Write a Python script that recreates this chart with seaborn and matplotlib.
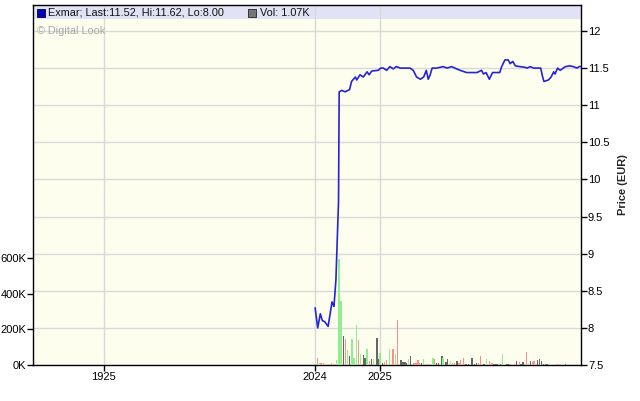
import numpy as np
import pandas as pd
import seaborn as sns
import matplotlib
matplotlib.use("Agg")
import matplotlib.pyplot as plt
from matplotlib.patches import Rectangle

# ---- data (time in years relative to start of 2024) ----
price_t = [0.00, 0.04, 0.08, 0.11, 0.15, 0.20, 0.26, 0.27, 0.29, 0.32, 0.34, 0.36, 0.37,
           0.41, 0.46, 0.53, 0.56, 0.62, 0.64, 0.69, 0.74, 0.80, 0.83, 0.87, 0.97, 1.01,
           1.05, 1.10, 1.15, 1.20, 1.25, 1.31, 1.46, 1.51, 1.56, 1.62, 1.67, 1.71, 1.74,
           1.77, 1.80, 1.87, 1.97, 2.03, 2.10, 2.15, 2.23, 2.33, 2.49, 2.56, 2.59, 2.63,
           2.68, 2.73, 2.84, 2.87, 2.92, 2.97, 3.00, 3.04, 3.08, 3.15, 3.23, 3.26, 3.31,
           3.36, 3.47, 3.50, 3.52, 3.59, 3.63, 3.67, 3.69, 3.73, 3.77, 3.85, 3.92, 3.97,
           4.03, 4.06, 4.08]
price = [8.27, 8.00, 8.19, 8.10, 8.08, 8.02, 8.35, 8.33, 8.29, 8.65, 9.18, 9.70, 11.18,
         11.20, 11.18, 11.21, 11.32, 11.38, 11.34, 11.41, 11.38, 11.45, 11.41, 11.46, 11.47, 11.50,
         11.50, 11.47, 11.52, 11.49, 11.52, 11.50, 11.50, 11.47, 11.38, 11.35, 11.38, 11.47, 11.35,
         11.41, 11.50, 11.50, 11.52, 11.50, 11.52, 11.50, 11.47, 11.44, 11.44, 11.47, 11.42, 11.44,
         11.35, 11.44, 11.44, 11.52, 11.61, 11.61, 11.56, 11.59, 11.53, 11.52, 11.51, 11.50, 11.52,
         11.50, 11.50, 11.38, 11.32, 11.34, 11.38, 11.45, 11.42, 11.50, 11.47, 11.52, 11.53, 11.52,
         11.50, 11.52, 11.52]

vol_t = [0.04, 0.07, 0.09, 0.13, 0.22, 0.25, 0.27, 0.30, 0.33, 0.37, 0.40, 0.44, 0.47, 0.50,
         0.53, 0.57, 0.60, 0.64, 0.67, 0.70, 0.74, 0.77, 0.80, 0.84, 0.87, 0.90, 0.95, 0.97,
         1.00, 1.04, 1.07, 1.10, 1.14, 1.17, 1.20, 1.24, 1.27, 1.32, 1.35, 1.38, 1.41, 1.44,
         1.47, 1.52, 1.55, 1.58, 1.60, 1.64, 1.67, 1.72, 1.74, 1.81, 1.84, 1.87, 1.90, 1.95,
         1.97, 2.01, 2.04, 2.08, 2.11, 2.14, 2.18, 2.21, 2.24, 2.28, 2.32, 2.36, 2.41, 2.45,
         2.48, 2.51, 2.54, 2.56, 2.60, 2.64, 2.68, 2.72, 2.75, 2.78, 2.80, 2.85, 2.88, 2.91,
         2.94, 2.97, 3.00, 3.08, 3.10, 3.14, 3.17, 3.20, 3.25, 3.28, 3.31, 3.34, 3.37, 3.42,
         3.45, 3.48, 3.51, 3.54, 3.57, 3.67, 3.72, 3.74, 3.85, 3.94]
volume_k = [41, 9, 9, 9, 6, 9, 6, 6, 28, 597, 360, 161, 144, 83,
            50, 144, 41, 227, 139, 61, 55, 42, 89, 24, 33, 33, 151, 33,
            70, 9, 18, 28, 89, 6, 89, 59, 255, 28, 18, 15, 9, 33,
            50, 9, 9, 28, 13, 9, 33, 6, 6, 41, 33, 9, 13, 50,
            37, 15, 33, 24, 9, 9, 24, 13, 28, 41, 6, 6, 41, 6,
            9, 13, 52, 6, 6, 33, 24, 9, 6, 6, 6, 6, 61, 6,
            6, 6, 6, 6, 24, 15, 6, 15, 74, 9, 24, 18, 24, 30,
            31, 24, 6, 6, 6, 6, 6, 6, 6, 6]
# g = up day, r = down day, k = unchanged
vol_dir = list("rgrrgrgrgggkrg" "kgggrgkkgrkgkk" "gkrrggrgrkkkkg" "krrrrkgrrgrkkk"
               "gkkgrrkrrrkkkk" "krrrkgrrkkkkgg" "kkrrkrkkrgkrrk" "kkkkkgrrkg")

price_ticks = [7.5, 8, 8.5, 9, 9.5, 10, 10.5, 11, 11.5, 12]
price_labels = ["7.5", "8", "8.5", "9", "9.5", "10", "10.5", "11", "11.5", "12"]
vol_ticks_k = [0, 200, 400, 600]
vol_labels = ["0K", "200K", "400K", "600K"]
year_ticks = [-3.25, 0.0, 1.0]
year_labels = ["1925", "2024", "2025"]

# ---- styling ----
sns.set_theme(style="white")
plt.rcParams['font.family'] = ['Liberation Sans', 'DejaVu Sans']

W, H = 640, 401
fig = plt.figure(figsize=(W / 100, H / 100), dpi=100)
fig.patch.set_facecolor("white")
L, R, T, B = 33, 581, 5, 365
ax = fig.add_axes([L / W, 1 - B / H, (R - L) / W, (B - T) / H])
ax.set_facecolor("#FEFEEE")

df_vol = pd.DataFrame({"t": vol_t, "vol": np.array(volume_k) * 1000.0, "dir": vol_dir})
df_price = pd.DataFrame({"t": price_t, "price": price})

# price axis (main)
ax.set_xlim(-4.34, 4.09)
ax.set_ylim(7.5, 12.35)
ax.axhspan(12.16, 12.35, color="#E2E2F6", zorder=0.3, lw=0)
for y in price_ticks:
    ax.axhline(y, color="#D9D9D9", lw=1, zorder=0.5)
for x in year_ticks:
    ax.axvline(x, color="#D9D9D9", lw=1, zorder=0.5)

sns.lineplot(data=df_price, x="t", y="price", ax=ax, color="#2424D8", lw=1.2, zorder=3)
ax.set_xlabel("")
ax.set_ylabel("")
ax.grid(False)

# volume axis (twin)
axv = ax.twinx()
axv.set_ylim(0, 2020000)
colors = {"g": "#90EE90", "r": "#FF8C8C", "k": "#666666"}
axv.bar(df_vol["t"], df_vol["vol"], width=0.022,
        color=[colors[d] for d in df_vol["dir"]], lw=0, zorder=2)
axv.grid(False)
for s in axv.spines.values():
    s.set_visible(False)

# axes placement: price on the right, volume on the left
ax.yaxis.tick_right()
ax.yaxis.set_label_position("right")
ax.set_yticks(price_ticks)
ax.set_yticklabels(price_labels)
ax.set_ylabel("Price (EUR)", fontsize=8, fontweight="bold", labelpad=6)
ax.set_xticks(year_ticks)
ax.set_xticklabels(year_labels)
ax.tick_params(axis="both", which="both", direction="out", length=4, width=1,
               colors="black", labelsize=8, pad=1)
ax.tick_params(axis="y", right=True, left=False, labelright=True, labelleft=False)
ax.tick_params(axis="x", bottom=True)
for s in ax.spines.values():
    s.set_color("black")
    s.set_linewidth(1)

axv.yaxis.tick_left()
axv.yaxis.set_label_position("left")
axv.set_yticks([v * 1000 for v in vol_ticks_k])
axv.set_yticklabels(vol_labels)
axv.set_ylabel("")
axv.tick_params(axis="y", direction="out", length=4, width=1, labelsize=8, pad=1,
                left=True, right=False, labelleft=True, labelright=False, colors="black")

# header legend
fig.patches.append(Rectangle((37 / W, 1 - 17 / H), 8 / W, 8 / H, transform=fig.transFigure,
                             facecolor="#0000B0", edgecolor="#000050", lw=0.6))
fig.text(48 / W, 1 - 12.5 / H, "Exmar; Last:11.52, Hi:11.62, Lo:8.00", fontsize=7.8,
         va="center", ha="left", color="#111111")
fig.patches.append(Rectangle((248 / W, 1 - 17 / H), 8 / W, 8 / H, transform=fig.transFigure,
                             facecolor="#777777", edgecolor="#222222", lw=0.6))
fig.text(260 / W, 1 - 12.5 / H, "Vol: 1.07K", fontsize=7.8, va="center", ha="left",
         color="#111111")
fig.text(37 / W, 1 - 31 / H, "© Digital Look", fontsize=7.8, va="center", ha="left",
         color="#A8A8A8")

fig.savefig("out.png", dpi=100)
